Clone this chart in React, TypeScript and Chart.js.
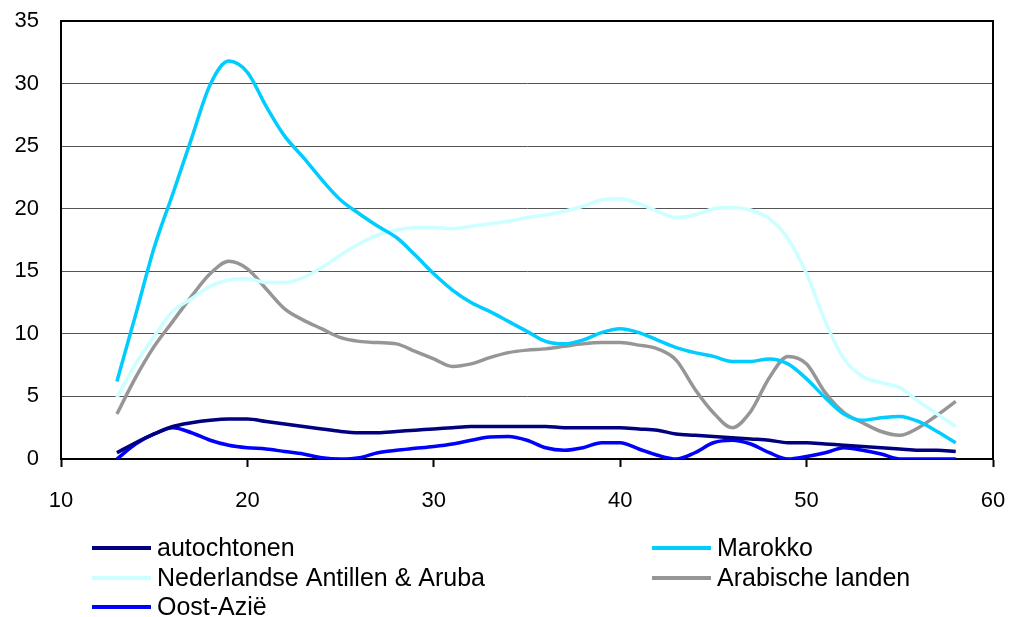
import React, { useEffect, useRef } from "react";
import { Chart, registerables } from "chart.js";

Chart.register(...registerables);

const ages = [13, 14, 15, 16, 17, 18, 19, 20, 21, 22, 23, 24, 25, 26, 27, 28, 29, 30, 31, 32, 33, 34, 35, 36, 37, 38, 39, 40, 41, 42, 43, 44, 45, 46, 47, 48, 49, 50, 51, 52, 53, 54, 55, 56, 57, 58];

const autochtonen = [0.5, 1.3, 2.0, 2.6, 2.9, 3.1, 3.2, 3.2, 3.0, 2.8, 2.6, 2.4, 2.2, 2.1, 2.1, 2.2, 2.3, 2.4, 2.5, 2.6, 2.6, 2.6, 2.6, 2.6, 2.5, 2.5, 2.5, 2.5, 2.4, 2.3, 2.0, 1.9, 1.8, 1.7, 1.6, 1.5, 1.3, 1.3, 1.2, 1.1, 1.0, 0.9, 0.8, 0.7, 0.7, 0.6];

const marokko = [6.2, 11.5, 16.9, 21.2, 25.6, 29.9, 31.8, 30.9, 28.2, 25.8, 24.1, 22.3, 20.7, 19.6, 18.6, 17.7, 16.3, 14.8, 13.5, 12.5, 11.8, 11.0, 10.2, 9.4, 9.2, 9.5, 10.1, 10.4, 10.1, 9.5, 8.9, 8.5, 8.2, 7.8, 7.8, 8.0, 7.6, 6.4, 4.9, 3.6, 3.1, 3.3, 3.4, 3.0, 2.2, 1.3];

const antillen = [4.9, 7.6, 9.8, 11.8, 12.8, 13.8, 14.3, 14.4, 14.1, 14.1, 14.5, 15.3, 16.3, 17.2, 17.9, 18.3, 18.5, 18.5, 18.4, 18.6, 18.8, 19.0, 19.3, 19.5, 19.8, 20.2, 20.7, 20.8, 20.4, 19.8, 19.3, 19.5, 20.0, 20.1, 19.9, 19.2, 17.6, 14.8, 11.0, 8.0, 6.6, 6.1, 5.7, 4.6, 3.6, 2.6];

const arabisch = [3.6, 6.5, 9.0, 11.0, 13.0, 14.8, 15.8, 15.2, 13.6, 12.0, 11.1, 10.4, 9.7, 9.4, 9.3, 9.2, 8.6, 8.0, 7.4, 7.6, 8.1, 8.5, 8.7, 8.8, 9.0, 9.2, 9.3, 9.3, 9.1, 8.8, 7.9, 5.6, 3.7, 2.5, 3.8, 6.5, 8.2, 7.6, 5.3, 3.7, 2.9, 2.2, 1.9, 2.5, 3.5, 4.6];

const oostAzie = [0.0, 1.2, 2.0, 2.5, 2.1, 1.5, 1.1, 0.9, 0.8, 0.6, 0.4, 0.1, 0.0, 0.1, 0.5, 0.7, 0.85, 1.0, 1.2, 1.5, 1.75, 1.8, 1.5, 0.9, 0.7, 0.9, 1.3, 1.3, 0.8, 0.3, 0.0, 0.5, 1.3, 1.5, 1.2, 0.5, 0.0, 0.2, 0.5, 0.9, 0.7, 0.4, 0.0, 0.0, 0.0, 0.0];

const seriesNames = ["autochtonen", "Marokko", "Nederlandse Antillen & Aruba", "Arabische landen", "Oost-Azië"];
const seriesValues = [autochtonen, marokko, antillen, arabisch, oostAzie];
const seriesColors = ["#000080", "#00CCFF", "#CCFFFF", "#969696", "#0000FF"];

// legend layout: [column, row] for each series
const legendSlots: [number, number][] = [[0, 0], [1, 0], [0, 1], [1, 1], [0, 2]];

const FONT = "'Liberation Sans', Arial, sans-serif";

const framePlugin = {
  id: "frame",
  beforeDatasetsDraw(chart: any) {
    const { ctx, chartArea } = chart;
    const { left, top, right, bottom } = chartArea;
    ctx.save();
    ctx.strokeStyle = "#000";
    ctx.lineWidth = 2;
    ctx.strokeRect(left, top, right - left, bottom - top);
    ctx.restore();
  },
  afterDraw(chart: any) {
    const { ctx } = chart;
    const colX = [92, 652];
    const rowY = [548, 578, 607];
    ctx.save();
    ctx.font = `25px ${FONT}`;
    ctx.textBaseline = "middle";
    ctx.fillStyle = "#000";
    seriesNames.forEach((name, i) => {
      const [c, r] = legendSlots[i];
      const x = colX[c];
      const y = rowY[r];
      ctx.strokeStyle = seriesColors[i];
      ctx.lineWidth = 4;
      ctx.beginPath();
      ctx.moveTo(x, y);
      ctx.lineTo(x + 59, y);
      ctx.stroke();
      ctx.fillText(name, x + 65, y + 1);
    });
    ctx.restore();
  },
};

export default function App() {
  const canvasRef = useRef<HTMLCanvasElement | null>(null);

  useEffect(() => {
    if (!canvasRef.current) return;
    const datasets = seriesNames.map((name, i) => ({
      label: name,
      data: ages.map((a, j) => ({ x: a, y: seriesValues[i][j] })),
      borderColor: seriesColors[i],
      backgroundColor: seriesColors[i],
      borderWidth: 3.5,
      pointRadius: 0,
      fill: false,
      cubicInterpolationMode: "monotone" as const,
    }));
    const chart = new Chart(canvasRef.current, {
      type: "line",
      data: { datasets },
      options: {
        animation: false,
        responsive: false,
        maintainAspectRatio: false,
        layout: { padding: { top: 21, right: 16, left: 0, bottom: 0 } },
        plugins: {
          legend: { display: false },
          tooltip: { enabled: false },
        },
        scales: {
          x: {
            type: "linear",
            min: 10,
            max: 60,
            ticks: {
              stepSize: 10,
              color: "#000",
              font: { family: FONT, size: 22 },
              padding: 21,
            },
            grid: {
              drawOnChartArea: false,
              drawTicks: true,
              tickLength: 8,
              tickColor: "#000",
              tickWidth: 2,
            },
            border: { display: true, color: "#000", width: 2 },
            afterFit: (scale: any) => {
              scale.height = 617 - 459;
              scale.paddingLeft = 0;
              scale.paddingRight = 0;
            },
          },
          y: {
            min: 0,
            max: 35,
            ticks: {
              stepSize: 5,
              color: "#000",
              font: { family: FONT, size: 22 },
              padding: 22,
            },
            grid: {
              color: "#555555",
              lineWidth: 1,
              drawTicks: false,
            },
            border: { display: true, color: "#000", width: 2 },
            afterFit: (scale: any) => {
              scale.width = 61;
              scale.paddingTop = 0;
              scale.paddingBottom = 0;
            },
          },
        },
      },
      plugins: [framePlugin],
    });
    return () => chart.destroy();
  }, []);

  return (
    <div style={{ position: "absolute", left: 0, top: 0, width: 1009, height: 617, background: "#fff" }}>
      <canvas ref={canvasRef} width={1009} height={617} style={{ display: "block" }} />
    </div>
  );
}
